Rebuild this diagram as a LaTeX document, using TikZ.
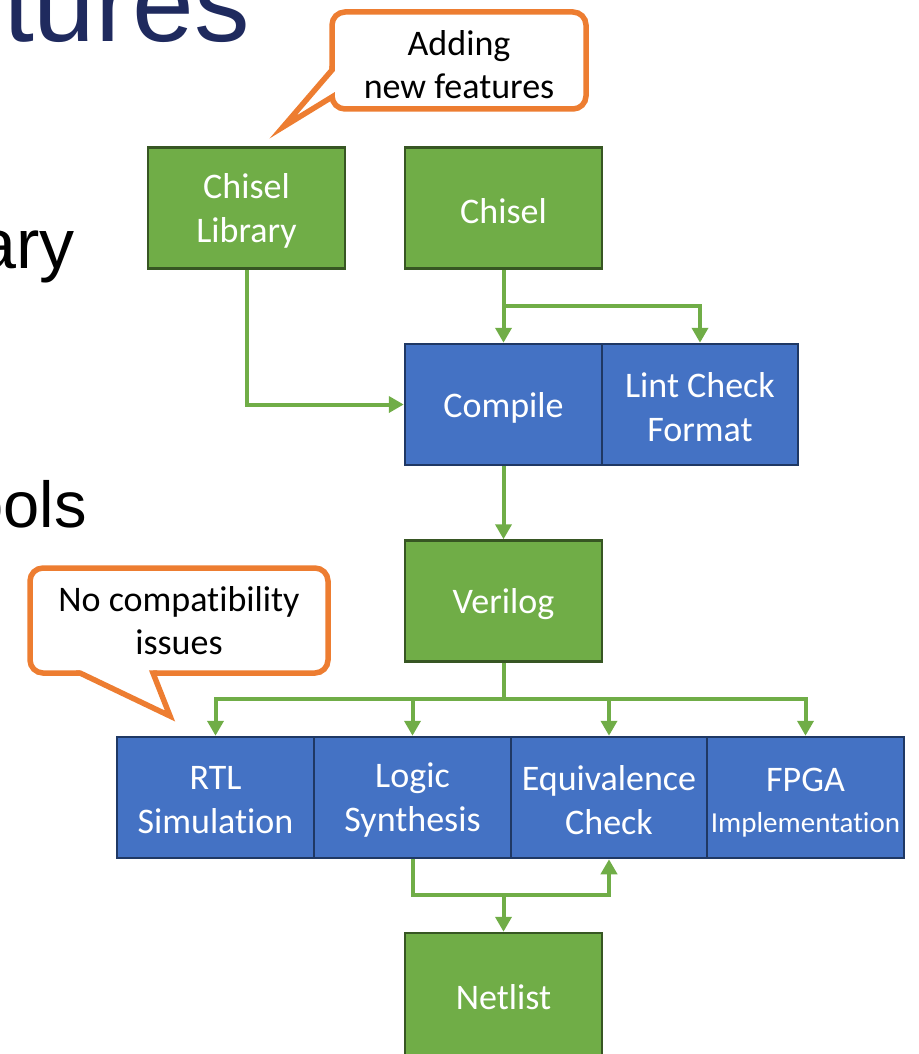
\documentclass[tikz,border=0pt]{standalone}
\usepackage{fontspec}
\setmainfont[Ligatures={NoCommon,NoContextual}, Contextuals=NoAlternate]{Carlito}
\newfontfamily\arialf{Liberation Sans}
\usetikzlibrary{arrows.meta}
\definecolor{pgreen}{HTML}{70AD47}
\definecolor{pgreendark}{HTML}{375623}
\definecolor{pblue}{HTML}{4472C4}
\definecolor{pbluedark}{HTML}{1F3864}
\definecolor{porange}{HTML}{ED7D31}
\definecolor{pnavy}{HTML}{1F2A5E}
\tikzset{
  box/.style={draw, line width=2.5pt, minimum height=121pt, inner sep=0pt},
  gbox/.style={box, fill=pgreen, draw=pgreendark, minimum width=197pt},
  bbox/.style={box, fill=pblue, draw=pbluedark, minimum width=197pt},
  boxtext/.style={align=center, text=white, inner sep=0pt, font=\fontsize{36}{44}\selectfont},
  conn/.style={draw=pgreen, line width=4pt, -{Triangle[length=15pt,width=16pt]}},
  wire/.style={draw=pgreen, line width=4pt},
  callout/.style={draw=porange, line width=5.5pt, fill=white},
  callouttext/.style={align=center, inner sep=0pt, font=\fontsize{36}{43}\selectfont},
  slidetext/.style={anchor=base east, inner sep=0pt, font=\arialf}
}
\begin{document}
\begin{tikzpicture}[x=1pt, y=-1pt]
\useasboundingbox (0,0) rectangle (918,1054);
\clip (0,0) rectangle (918,1054);
% slide text fragments
\node[slidetext, text=pnavy, font=\arialf\fontsize{111}{111}\selectfont] (t1) at (250,42) {tures};
\node[slidetext, font=\arialf\fontsize{70}{70}\selectfont] (t2) at (75,268) {ary};
\node[slidetext, font=\arialf\fontsize{65}{65}\selectfont] (t3) at (87,527) {ools};
% boxes
\node[gbox] (lib) at (246.5,208) {};
\node[gbox] (chisel) at (503.5,208) {};
\node[bbox] (compile) at (503.5,404.5) {};
\node[bbox, minimum width=196pt] (lint) at (700,404.5) {};
\node[gbox] (verilog) at (503.5,601) {};
\node[bbox] (rtl) at (215.5,797.5) {};
\node[bbox] (logic) at (412.5,797.5) {};
\node[bbox, minimum width=196pt] (equiv) at (609,797.5) {};
\node[bbox] (fpga) at (805.5,797.5) {};
\node[gbox, minimum height=122pt] (netlist) at (503.5,994) {};
% box texts
\node[boxtext] (libt) at (246.5,211) {Chisel\\Library};
\node[boxtext] (chiselt) at (503.5,211) {Chisel};
\node[boxtext] (compilet) at (503.5,407.5) {Compile};
\node[boxtext] (lintt) at (700,407.5) {Lint Check\\Format};
\node[boxtext] (verilogt) at (503.5,604) {Verilog};
\node[boxtext] (rtlt) at (215.5,800.5) {RTL\\Simulation};
\node[boxtext] (logict) at (412.5,800.5) {Logic\\Synthesis};
\node[boxtext] (equivt) at (609,800.5) {Equivalence\\Check};
\node[boxtext] (fpgat) at (805.5,803) {FPGA\\[-3pt]{\fontsize{29}{35}\selectfont Implementation}};
\node[boxtext] (netlistt) at (503.5,997) {Netlist};
% connectors
\coordinate (b1) at (503.5,306);
\coordinate (b2) at (503.5,699);
\coordinate (b3) at (503.5,895);
\draw[conn] (lib.south) |- (compile.west);
\draw[conn] (chisel.south) -- (compile.north);
\draw[conn] (b1) -| (lint.north);
\draw[conn] (compile.south) -- (verilog.north);
\draw[wire] (verilog.south) -- (b2);
\draw[conn] (b2) -| (rtl.north);
\draw[conn] (b2) -| (logic.north);
\draw[conn] (b2) -| (equiv.north);
\draw[conn] (b2) -| (fpga.north);
\draw[conn] (logic.south) |- (b3) -| (equiv.south);
\draw[conn] (b3) -- (netlist.north);
% callout 1
\draw[callout, rounded corners=13pt] (332,12) rectangle (586,109);
\fill[white] (332,70) -- (283,127) -- (332,97) -- (338,97) -- (338,70) -- cycle;
\draw[porange, line width=5.5pt, miter limit=20] (332,66) -- (332,70) -- (283,127) -- (332,97) -- (332,100);
\node[callouttext] (c1) at (459,65) {Adding\\new features};
% callout 2
\draw[callout, rounded corners=13pt] (30,568) rectangle (328,673);
\fill[white] (80,673) -- (170,716) -- (153,673) -- (153,667) -- (80,667) -- cycle;
\draw[porange, line width=5.5pt, miter limit=20] (76,673) -- (80,673) -- (170,716) -- (153,673) -- (157,673);
\node[callouttext] (c2) at (179,621) {No compatibility\\issues};
\end{tikzpicture}
\end{document}
